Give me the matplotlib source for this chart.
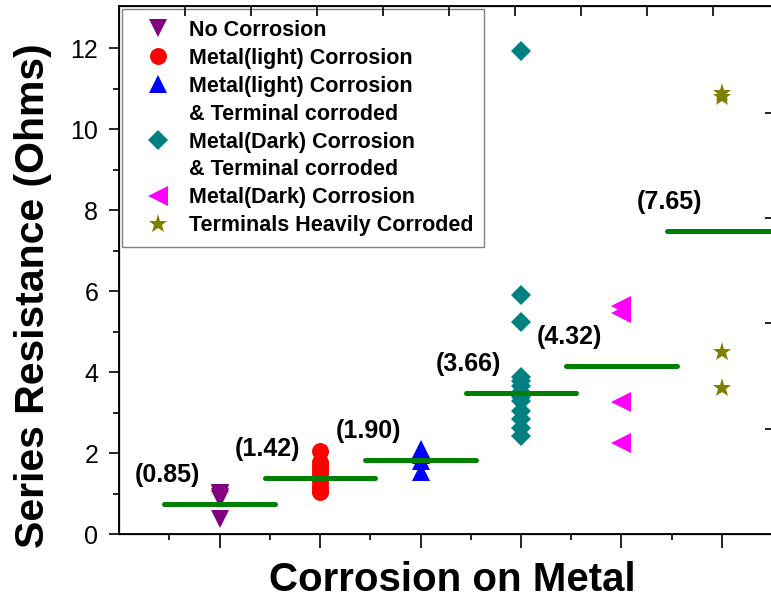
import matplotlib

matplotlib.use("Agg")

import matplotlib.pyplot as plt
from matplotlib.lines import Line2D

plt.rcParams["font.family"] = ["Liberation Sans", "DejaVu Sans"]

# values
categories = [1, 2, 3, 4, 5, 6]
no_corrosion = [1.03, 0.99, 0.93, 0.87, 0.38]
light_corrosion = [2.05, 1.78, 1.68, 1.58, 1.48, 1.38, 1.28, 1.18, 1.08, 1.04]
light_terminal = [2.10, 1.95, 1.80, 1.53]
dark_terminal = [11.92, 5.91, 5.25, 3.89, 3.78, 3.65, 3.52, 3.40, 3.30, 3.05, 2.85, 2.62, 2.42]
dark_corrosion = [5.64, 5.46, 3.26, 2.25]
heavy_terminal = [10.89, 10.80, 4.51, 3.60]
mean_lines = [0.74, 1.38, 1.83, 3.48, 4.16, 7.49]
mean_labels = ["(0.85)", "(1.42)", "(1.90)", "(3.66)", "(4.32)", "(7.65)"]

series = [
    (no_corrosion, "v", "#800080", 13.5, "No Corrosion"),
    (light_corrosion, "o", "#ff0000", 12.2, "Metal(light) Corrosion"),
    (light_terminal, "^", "#0000ff", 13.5, "Metal(light) Corrosion"),
    (dark_terminal, "D", "#008080", 10.2, "Metal(Dark) Corrosion"),
    (dark_corrosion, "<", "#ff00ff", 14.0, "Metal(Dark) Corrosion"),
    (heavy_terminal, "*", "#808000", 14.0, "Terminals Heavily Corroded"),
]
second_lines = {2: "& Terminal corroded", 3: "& Terminal corroded"}

fig = plt.figure(figsize=(7.71, 5.98), dpi=100)
ax = fig.add_axes([0.1547, 0.1065, 0.8466, 0.8834])

handles = []
labels = []
for idx, (values, marker, color, size, label) in enumerate(series):
    (h,) = ax.plot(
        [categories[idx]] * len(values),
        values,
        linestyle="none",
        marker=marker,
        markersize=size,
        color=color,
        markeredgewidth=0,
        zorder=3,
    )
    handles.append(h)
    labels.append(label)
    if idx in second_lines:
        handles.append(Line2D([], [], linestyle="none", marker="none"))
        labels.append(second_lines[idx])

half_width = 0.55
for cat, mean, text in zip(categories, mean_lines, mean_labels):
    ax.plot(
        [cat - half_width, cat + half_width],
        [mean, mean],
        color="#008000",
        linewidth=3.6,
        solid_capstyle="round",
        zorder=4,
    )
    ax.text(
        cat - 0.52,
        mean + 0.72,
        text,
        ha="center",
        va="center",
        fontsize=18,
        fontweight="bold",
        zorder=5,
    )

ax.set_xlim(0, 6.43)
ax.set_ylim(0, 13.04)
ax.set_xticks(categories)
ax.set_xticks([c - 0.5 for c in categories] + [6.5], minor=True)
ax.set_xticklabels([])
ax.set_yticks(range(0, 13, 2))
ax.set_yticks(range(1, 13, 2), minor=True)
ax.tick_params(axis="x", which="major", direction="out", length=10, width=1.2)
ax.tick_params(axis="x", which="minor", direction="out", length=4, width=1.2)
ax.tick_params(axis="y", which="major", direction="out", length=7.2, width=1.2,
               labelsize=18, pad=8)
ax.tick_params(axis="y", which="minor", direction="out", length=4.3, width=1.2)
for spine in ax.spines.values():
    spine.set_linewidth(1.3)

# extra layer ticks on top and right
ax_top = ax.twiny()
ax_top.set_xlim(0, 9.9)
ax_top.set_xticks(range(1, 10))
ax_top.tick_params(axis="x", direction="in", length=7.2, width=1.2, labeltop=False)
ax_right = ax.twinx()
ax_right.set_ylim(0, 5.01)
ax_right.set_yticks(range(1, 5))
ax_right.tick_params(axis="y", direction="in", length=5, width=1.2, labelright=False)

leg = ax.legend(
    handles,
    labels,
    loc="upper left",
    bbox_to_anchor=(0.004, 0.994),
    borderaxespad=0,
    numpoints=1,
    prop={"weight": "bold", "size": 15.5},
    frameon=True,
    fancybox=False,
    edgecolor="#808080",
    framealpha=1,
    borderpad=0.5,
    handlelength=2.4,
    handletextpad=0.2,
    labelspacing=0.32,
)
leg.get_frame().set_linewidth(1.0)
leg.set_zorder(10)

fig.text(33 / 771, 1 - 296 / 598, "Series Resistance (Ohms)", rotation=90,
         ha="center", va="center", fontsize=29.5, fontweight="bold")
fig.text(452 / 771, 1 - 580 / 598, "Corrosion on Metal",
         ha="center", va="center", fontsize=29, fontweight="bold")

fig.savefig("out.png", dpi=100)
